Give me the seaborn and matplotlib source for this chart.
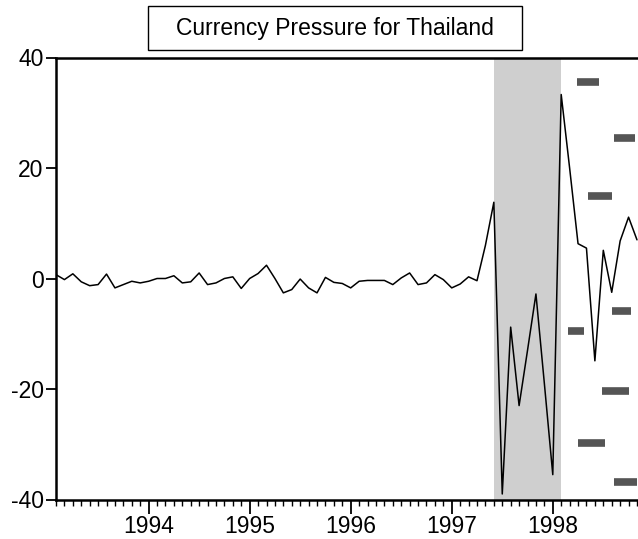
import numpy as np
import pandas as pd
import matplotlib
matplotlib.use("Agg")
import matplotlib.pyplot as plt
from matplotlib.patches import Rectangle
from matplotlib.ticker import MultipleLocator, FixedLocator
import seaborn as sns

# Monthly currency pressure index for Thailand, Feb 1993 - Nov 1998
start_year = 1993
start_month = 2
pressure = [
    0.7, -0.2, 0.85, -0.6, -1.3, -1.1, 0.8, -1.7, -1.1, -0.5, -0.8,   # 1993
    -0.5, 0.0, 0.0, 0.5, -0.8, -0.6, 1.0, -1.1, -0.8, 0.0, 0.3, -1.8,  # 1994
    0.0, 0.9, 2.4, 0.0, -2.6, -2.0, -0.1, -1.7, -2.6, 0.2, -0.7, -0.9,  # 1995
    -1.7, -0.5, -0.35, -0.35, -0.35, -1.1, 0.1, 1.0, -1.1, -0.8, 0.7, -0.2,  # 1996
    -1.7, -1.0, 0.3, -0.4, 6.0, 13.8, -39.0, -8.8, -23.0, -13.0, -2.8, -19.0,  # 1997
    -35.5, 33.3, 20.0, 6.3, 5.5, -14.9, 5.1, -2.5, 6.8, 11.1, 7.0,  # 1998
]

# Crisis window (shaded), as decimal years
crisis_start = 1997 + 5 / 12
crisis_end = 1998 + 1 / 12

# Short dark markers drawn on the right-hand side: start, end, level
mark_start = [1998.242, 1998.608, 1998.350, 1998.150, 1998.583, 1998.492, 1998.250, 1998.608]
mark_end = [1998.458, 1998.817, 1998.583, 1998.308, 1998.775, 1998.750, 1998.517, 1998.833]
mark_level = [35.5, 25.4, 14.9, -9.5, -5.8, -20.4, -29.7, -36.9]

year_ticks = [1994, 1995, 1996, 1997, 1998]
y_ticks = [-40, -20, 0, 20, 40]
title = "Currency Pressure for Thailand"

months = np.arange(len(pressure))
t = start_year + (start_month - 1 + months) / 12
df = pd.DataFrame({"t": t, "pressure": pressure})

sns.set_style("ticks")
plt.rcParams["font.family"] = ["Liberation Sans", "DejaVu Sans"]
plt.rcParams["axes.unicode_minus"] = False

W, H = 638, 539
fig = plt.figure(figsize=(W / 100, H / 100), dpi=100)
fig.patch.set_facecolor("white")

left_px, right_px, top_px, bottom_px = 56, 638, 57.5, 499.5
ax = fig.add_axes([left_px / W, 1 - bottom_px / H,
                   (right_px - left_px) / W, (bottom_px - top_px) / H])
ax.set_facecolor("white")

ax.axvspan(crisis_start, crisis_end, color="#cfcfcf", lw=0, zorder=0)

sns.lineplot(data=df, x="t", y="pressure", ax=ax, color="black", lw=1.1, zorder=3)

ax.hlines(mark_level, mark_start, mark_end, colors="#555555", lw=5.5,
          capstyle="butt", zorder=4)

x0 = start_year + (start_month - 1) / 12
ax.set_xlim(x0, x0 + (right_px - left_px) / 101.04)
ax.set_ylim(-40, 40)

ax.xaxis.set_major_locator(FixedLocator(year_ticks))
ax.xaxis.set_minor_locator(MultipleLocator(1 / 12))
ax.set_xticklabels([str(y) for y in year_ticks])
ax.yaxis.set_major_locator(FixedLocator(y_ticks))
ax.set_yticklabels([str(v) for v in y_ticks])
ax.yaxis.set_minor_locator(FixedLocator([]))

ax.tick_params(axis="x", which="major", direction="out", length=10, width=1.3,
               labelsize=16.5, pad=1.5, colors="black")
ax.tick_params(axis="x", which="minor", direction="out", length=4, width=1.0,
               colors="black")
ax.tick_params(axis="y", which="major", direction="out", length=7, width=1.3,
               labelsize=16.5, pad=2, colors="black")

ax.set_xlabel("")
ax.set_ylabel("")
for side in ("left", "top", "bottom"):
    ax.spines[side].set_visible(True)
    ax.spines[side].set_linewidth(1.8)
    ax.spines[side].set_color("black")
ax.spines["right"].set_visible(False)

# Boxed title above the plot
bx0, bx1, by0, by1 = 148, 522, 6, 50
fig.add_artist(Rectangle((bx0 / W, 1 - by1 / H), (bx1 - bx0) / W, (by1 - by0) / H,
                         transform=fig.transFigure, fill=False, ec="black", lw=1.0))
fig.text((bx0 + bx1) / 2 / W, 1 - (by0 + by1) / 2 / H, title,
         ha="center", va="center", fontsize=16.5, color="black")

fig.savefig("out.png", dpi=100, facecolor="white")
